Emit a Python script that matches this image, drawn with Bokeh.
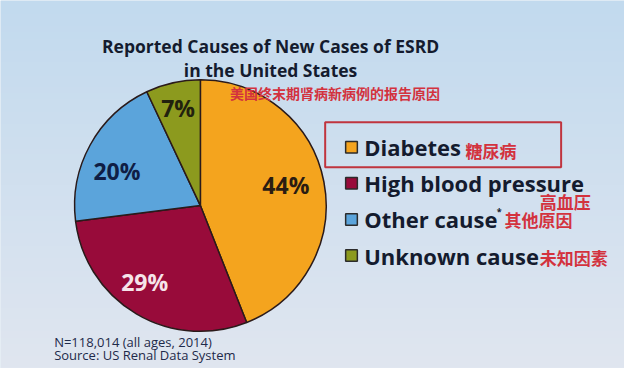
import numpy as np
from bokeh.plotting import figure
from bokeh.models import Range1d, ColumnDataSource, Label
from bokeh.core.properties import value
from bokeh.embed import file_html
from bokeh.resources import INLINE

# ---- data ----
categories = ["Diabetes", "High blood pressure", "Other cause", "Unknown cause"]
cn_labels = ["糖尿病", "高血压", "其他原因", "未知因素"]
percents = [44, 29, 20, 7]
pct_labels = ["44%", "29%", "20%", "7%"]
title_lines = ["Reported Causes of New Cases of ESRD", "in the United States"]
cn_title = "美国终末期肾病新病例的报告原因"
notes = ["N=118,014 (all ages, 2014)", "Source: US Renal Data System"]

# ---- style ----
colors = ["#F4A41E", "#980B3A", "#5BA4DB", "#8C9A1E"]
label_colors = ["#2A1C12", "#F6E4EA", "#0F1E45", "#22220E"]
label_rfrac = [0.70, 0.76, 0.72, 0.81]
label_nudge = [3, -5, 6, 0]
cn_x = [477, 553, 517, 553]
cn_dy = [-3, -19, 0, -2]
RED = "#D3323E"
INK = "#141B2E"

W, H = 624, 368
p = figure(width=W, height=H, output_backend="svg", toolbar_location=None,
           x_range=Range1d(0, 640), y_range=Range1d(0, 384),
           x_axis_type=None, y_axis_type=None, min_border=0)
p.grid.visible = False
p.outline_line_color = None

# background gradient
top = np.array([0xC2, 0xDA, 0xEE]); bot = np.array([0xE0, 0xE6, 0xF0])
ny = 192
t = np.linspace(0, 1, ny)[:, None]
cols = (bot * (1 - t) + top * t).astype(np.uint32)  # row 0 = bottom
img = np.empty((ny, 2), dtype=np.uint32)
v = img.view(dtype=np.uint8).reshape((ny, 2, 4))
v[:, :, 0] = cols[:, 0:1]
v[:, :, 1] = cols[:, 1:2]
v[:, :, 2] = cols[:, 2:3]
v[:, :, 3] = 255
p.image_rgba(image=[img], x=0, y=0, dw=640, dh=384)
p.background_fill_color = "#D2E1EF"
p.border_fill_color = "#D2E1EF"

# pie
cx, cy, R = 205, 170, 129
vals = np.array(percents, dtype=float)
cum = np.cumsum(vals)
start = 90 - cum * 3.6
end = 90 - (cum - vals) * 3.6
src = ColumnDataSource(dict(start=start, end=end, color=colors, cat=categories))
p.wedge(x=cx, y=cy, radius=R, start_angle="start", end_angle="end",
        start_angle_units="deg", end_angle_units="deg", direction="anticlock",
        fill_color="color", line_color="#2A1A1A", line_width=1.5, source=src)

mid = np.deg2rad(90 - (cum - vals / 2) * 3.6 + np.array(label_nudge))
lx = cx + R * np.array(label_rfrac) * np.cos(mid)
ly = cy + R * np.array(label_rfrac) * np.sin(mid)
p.text(x=lx, y=ly, text=pct_labels, text_color=label_colors,
       text_font=value("Open Sans"), text_font_style="bold", text_font_size="23px",
       text_align="center", text_baseline="middle")

# titles
for i, line in enumerate(title_lines):
    p.add_layout(Label(x=277, y=384 - 47 - i * 25, text=line, text_align="center",
                       text_baseline="middle", text_font="Open Sans",
                       text_font_style="bold", text_font_size="17.5px", text_color=INK))
p.add_layout(Label(x=343, y=384 - 97, text=cn_title, text_align="center",
                   text_baseline="middle", text_font="Noto Sans CJK SC",
                   text_font_style="bold", text_font_size="14px", text_color=RED))

# legend
ly0 = 384 - 153
step = 37.7
rows_y = [ly0 - i * step for i in range(len(categories))]
p.rect(x=360, y=rows_y, width=12, height=12, fill_color=colors,
       line_color="#2B2B2B", line_width=1.5)
p.text(x=373, y=rows_y, text=categories, text_color=INK,
       text_font=value("Open Sans"), text_font_style="bold", text_font_size="22px",
       text_align="left", text_baseline="middle")
p.text(x=509, y=rows_y[2] + 8, text=["*"], text_color=INK,
       text_font=value("Open Sans"), text_font_style="bold", text_font_size="9px",
       text_align="left", text_baseline="middle")
p.text(x=cn_x, y=[rows_y[i] + cn_dy[i] for i in range(4)], text=cn_labels,
       text_color=RED, text_font=value("Noto Sans CJK SC"), text_font_style="bold",
       text_font_size="17px", text_align="left", text_baseline="middle")
p.quad(left=333, right=575, top=384 - 127, bottom=384 - 174,
       fill_color=None, line_color="#C0343E", line_width=2)

# footnote
for i, n in enumerate(notes):
    p.add_layout(Label(x=55, y=384 - 356 - i * 14, text=n, text_align="left",
                       text_baseline="middle", text_font="Open Sans",
                       text_font_size="13px", text_color="#1E2A4A"))

open("out.html", "w").write(file_html(p, INLINE))
